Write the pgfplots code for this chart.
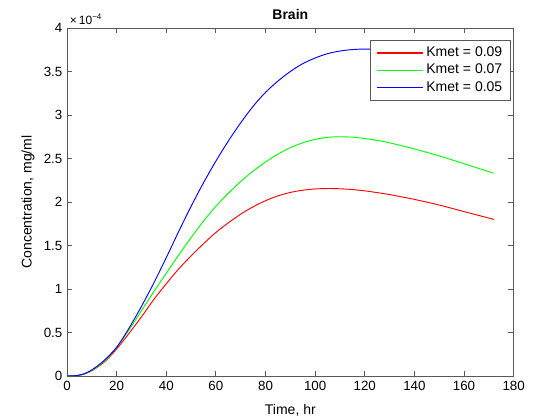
\documentclass[border=0pt]{standalone}
\usepackage{fontspec}
\setmainfont{Liberation Sans}
\usepackage{pgfplots}
\usepackage{pgfplotstable}
\pgfplotsset{compat=1.18}
\definecolor{mred}{rgb}{1,0,0}
\definecolor{mgreen}{rgb}{0,1,0}
\definecolor{mblue}{rgb}{0,0,1}
\definecolor{axgray}{gray}{0.35}

% concentration in units of 1e-4 mg/ml
\pgfplotstableread{
t    red    green  blue
0    0      0      0
3    0.003  0.003  0.003
6    0.015  0.015  0.017
10   0.06   0.065  0.07
15   0.16   0.17   0.18
20   0.31   0.33   0.33
25   0.49   0.53   0.55
30   0.68   0.75   0.80
35   0.88   0.97   1.07
40   1.06   1.18   1.36
45   1.23   1.39   1.66
50   1.38   1.59   1.95
55   1.52   1.78   2.22
60   1.65   1.95   2.47
65   1.76   2.10   2.70
70   1.86   2.235  2.91
75   1.945  2.355  3.10
80   2.015  2.46   3.26
85   2.07   2.55   3.39
90   2.11   2.625  3.50
95   2.135  2.68   3.59
100  2.15   2.72   3.655
105  2.155  2.743  3.705
110  2.152  2.75   3.735
115  2.143  2.745  3.752
120  2.128  2.73   3.758
125  2.108  2.708  3.752
130  2.085  2.68   3.74
140  2.03   2.61   3.70
150  1.965  2.53   3.64
160  1.89   2.44   3.57
172  1.80   2.33   3.48
}\data

\begin{document}
\begin{tikzpicture}
\begin{axis}[
  scale only axis,
  width=335pt, height=261pt,
  xmin=0, xmax=180, ymin=0, ymax=4,
  xtick={0,20,40,60,80,100,120,140,160,180},
  ytick={0,0.5,1,1.5,2,2.5,3,3.5,4},
  yticklabels={0,0.5,1,1.5,2,2.5,3,3.5,4},
  tick align=inside, tick pos=both,
  major tick length=4pt,
  axis line style={axgray},
  every tick/.style={axgray, line width=0.6pt},
  tick label style={font=\fontsize{10}{12}\selectfont},
  /pgf/number format/assume math mode=true,
  title={\bfseries Brain},
  title style={font=\fontsize{10.5}{12}\selectfont, yshift=-3pt},
  xlabel={Time, hr},
  xlabel style={yshift=-4pt},
  ylabel={Concentration, mg/ml},
  label style={font=\fontsize{10.5}{12}\selectfont},
  legend style={at={(rel axis cs:0.993,0.965)}, anchor=north east,
    font=\fontsize{10.5}{12}\selectfont, draw=axgray, fill=white,
    row sep=0pt, inner xsep=4pt, inner ysep=3pt},
  legend cell align=left,
  legend image post style={xscale=2.05, line width=0.8pt},
]
\addplot[mred, line width=0.7pt, no markers, smooth] table[x=t, y=red] {\data};
\addlegendentry{Kmet = 0.09}
\addplot[mgreen, line width=0.7pt, no markers, smooth] table[x=t, y=green] {\data};
\addlegendentry{Kmet = 0.07}
\addplot[mblue, line width=0.7pt, no markers, smooth] table[x=t, y=blue] {\data};
\addlegendentry{Kmet = 0.05}
\coordinate (O) at (rel axis cs:0,0);
\coordinate (TL) at (rel axis cs:0,1);
\end{axis}
\node[anchor=south west, font=\fontsize{9}{10}\selectfont, inner sep=1pt]
  at ([xshift=1pt,yshift=1pt]TL) {×\,10\textsuperscript{−4}};
\pgfresetboundingbox
\path[use as bounding box] (O) ++(-50.25pt,-30pt) rectangle ++(402pt,312pt);
\end{tikzpicture}
\end{document}
